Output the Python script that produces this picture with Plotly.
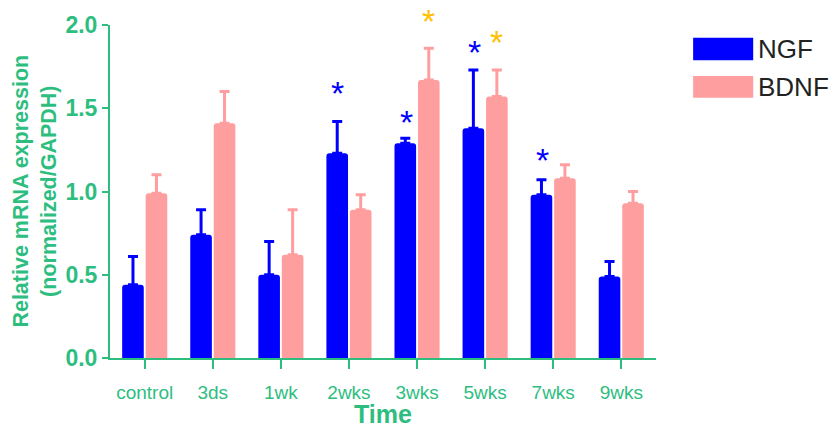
import plotly.graph_objects as go

categories = ["control", "3ds", "1wk", "2wks", "3wks", "5wks", "7wks", "9wks"]
ngf_mean = [0.44, 0.74, 0.50, 1.23, 1.29, 1.38, 0.98, 0.49]
ngf_upper = [0.61, 0.89, 0.70, 1.42, 1.32, 1.73, 1.07, 0.58]
bdnf_mean = [0.99, 1.41, 0.62, 0.89, 1.67, 1.57, 1.08, 0.93]
bdnf_upper = [1.10, 1.60, 0.89, 0.98, 1.86, 1.73, 1.16, 1.00]
y_ticks = [0.0, 0.5, 1.0, 1.5, 2.0]
# significance markers: (category, series, height of the star)
stars = [("2wks", "NGF", 1.59), ("3wks", "NGF", 1.42), ("3wks", "BDNF", 2.02),
         ("5wks", "NGF", 1.835), ("5wks", "BDNF", 1.895), ("7wks", "NGF", 1.19)]

GREEN = "#2DBE7F"
BLUE = "#0000FF"
PINK = "#FF9E9E"
STAR_COL = {"NGF": BLUE, "BDNF": "#FFC000"}
FONT = "Arial, Liberation Sans, sans-serif"

Y_MAX = y_ticks[-1]
PX_PER_UNIT = 339 / Y_MAX

fig = go.Figure()
fig.add_bar(
    x=categories, y=ngf_mean, name="NGF", offsetgroup="NGF",
    marker=dict(color=BLUE, line=dict(width=0), cornerradius=3),
    error_y=dict(type="data", symmetric=False,
                 array=[u - m for u, m in zip(ngf_upper, ngf_mean)],
                 arrayminus=[0] * len(ngf_mean),
                 color=BLUE, thickness=3, width=5),
)
fig.add_bar(
    x=categories, y=bdnf_mean, name="BDNF", offsetgroup="BDNF",
    marker=dict(color=PINK, line=dict(width=0), cornerradius=3),
    error_y=dict(type="data", symmetric=False,
                 array=[u - m for u, m in zip(bdnf_upper, bdnf_mean)],
                 arrayminus=[0] * len(bdnf_mean),
                 color=PINK, thickness=3, width=5),
)

annotations = []
for cat, series, h in stars:
    idx = categories.index(cat)
    shift = -11 if series == "NGF" else 11
    anchor_y = min(h, Y_MAX * 0.95)
    extra = (h - anchor_y) * PX_PER_UNIT
    annotations.append(dict(
        x=idx, y=anchor_y, xref="x", yref="y", text="*", showarrow=False,
        xshift=shift, yshift=extra, yanchor="middle",
        font=dict(family=FONT, size=34, color=STAR_COL[series]),
    ))

# axis titles
annotations.append(dict(
    x=-0.139, y=0.5, xref="paper", yref="paper", textangle=-90,
    text="<b>Relative mRNA expression<br>(normalized/GAPDH)</b>",
    showarrow=False, xanchor="center", yanchor="middle",
    font=dict(family=FONT, size=21.5, color=GREEN),
))
annotations.append(dict(
    x=0.5, y=-0.168, xref="paper", yref="paper", text="<b>Time</b>",
    showarrow=False, xanchor="center", yanchor="middle",
    font=dict(family=FONT, size=25, color=GREEN),
))

# custom legend
legend_items = [("NGF", BLUE, 0.9617, 0.8938), ("BDNF", PINK, 0.8466, 0.7817)]
shapes = []
for name, col, y1, y0 in legend_items:
    shapes.append(dict(type="rect", xref="paper", yref="paper",
                       x0=1.068, x1=1.178, y0=y0, y1=y1,
                       fillcolor=col, line=dict(width=0)))
    annotations.append(dict(
        x=1.183, y=(y0 + y1) / 2, xref="paper", yref="paper", text=name,
        showarrow=False, xanchor="left", yanchor="middle",
        font=dict(family=FONT, size=26, color="#222222"),
    ))

fig.update_layout(
    width=836, height=428,
    margin=dict(l=110, r=180, t=19, b=70),
    paper_bgcolor="white", plot_bgcolor="white",
    barmode="group", bargap=0.31, bargroupgap=0.08,
    showlegend=False,
    annotations=annotations, shapes=shapes,
    font=dict(family=FONT, color=GREEN),
)
fig.update_xaxes(
    range=[-0.51, 7.51], showline=True, linecolor=GREEN, linewidth=2,
    ticks="outside", ticklen=9, tickwidth=2, tickcolor=GREEN,
    tickfont=dict(family=FONT, size=19, color=GREEN),
    ticklabelstandoff=7, showgrid=False, zeroline=False,
)
fig.update_yaxes(
    range=[0, Y_MAX], tickvals=y_ticks, ticktext=[f"<b>{v:.1f}</b>" for v in y_ticks],
    showline=True, linecolor=GREEN, linewidth=2,
    ticks="outside", ticklen=6, tickwidth=2, tickcolor=GREEN,
    tickfont=dict(family=FONT, size=23, color=GREEN),
    showgrid=False, zeroline=False,
)

fig.write_html("out.html", config={"displayModeBar": False},
               post_script="document.body.style.margin='0';")
